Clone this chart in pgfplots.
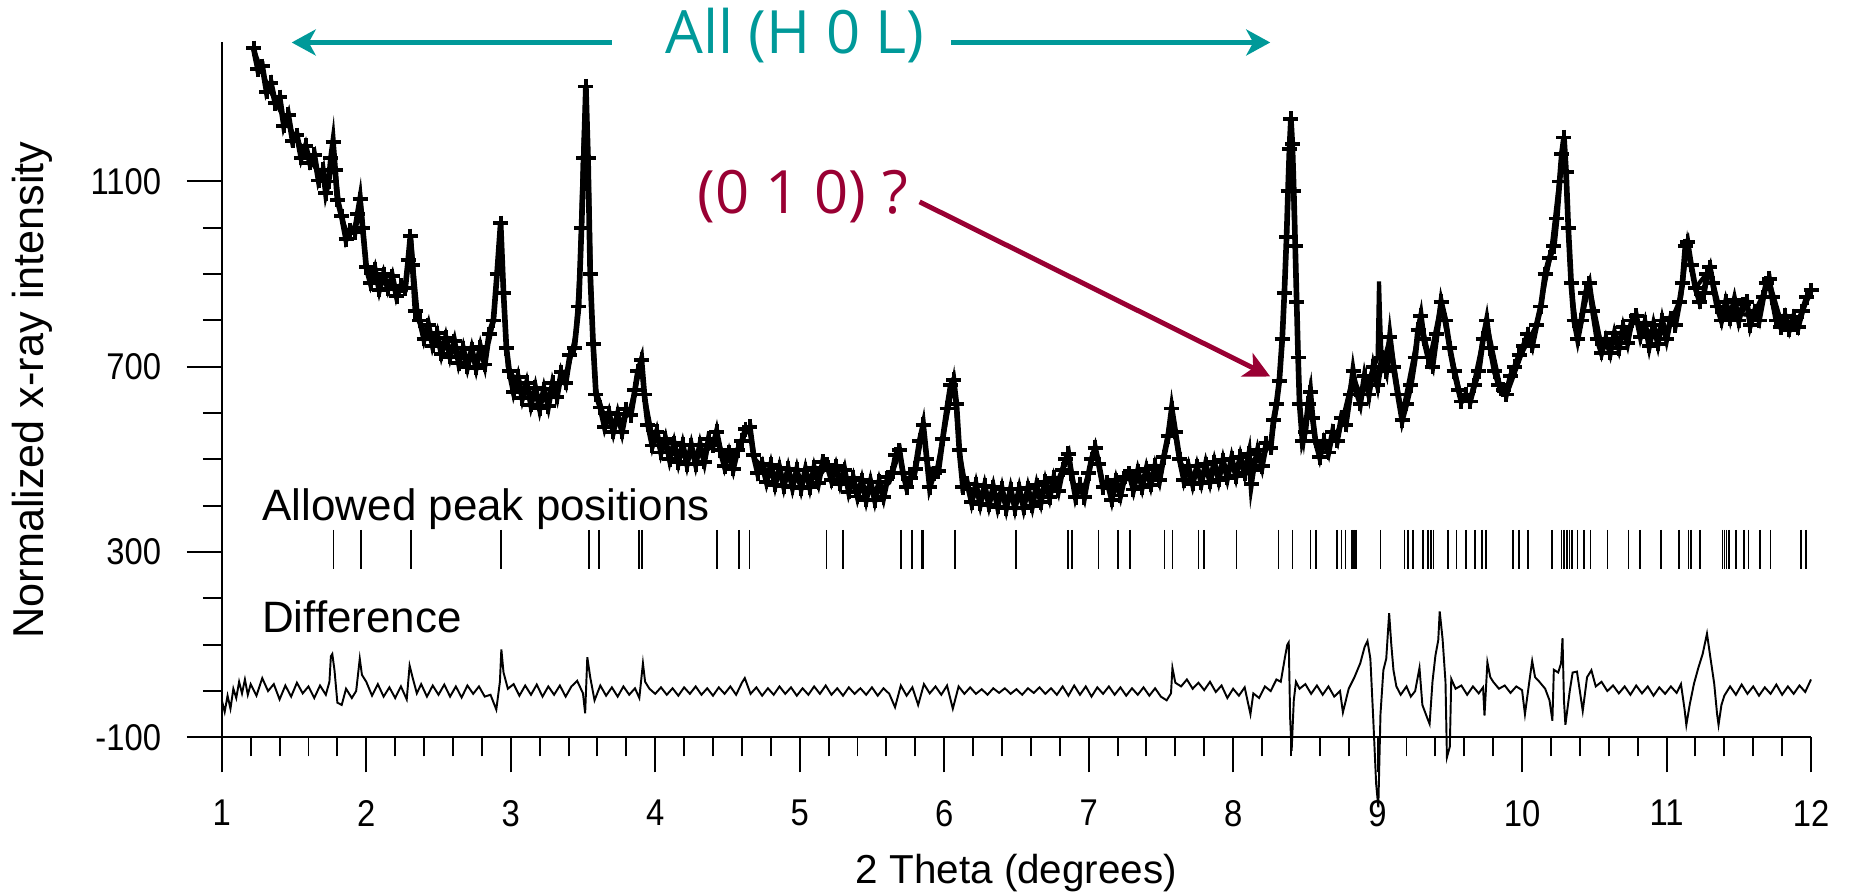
\documentclass[border=0pt]{standalone}
\usepackage{fontspec}
\setmainfont{Liberation Sans}
\newfontfamily\annfont{Open Sans}
\newfontfamily\tickfam[FakeStretch=0.88]{Liberation Sans}
\usepackage{pgfplots}
\pgfplotsset{compat=1.18}
\usetikzlibrary{arrows.meta}
\definecolor{annteal}{RGB}{0,153,153}
\definecolor{annred}{RGB}{153,0,51}
\newcommand{\tickfont}{\tickfam\fontsize{10.6}{12}\selectfont}
\begin{document}
\begin{tikzpicture}
\path[use as bounding box] (-22.18mm,-15.86mm) rectangle (162.82mm,73.74mm);
\begin{axis}[
  at={(0,0)}, anchor=south west,
  scale only axis, width=158.92mm, height=69.49mm,
  xmin=1, xmax=12, ymin=-100, ymax=1400,
  axis lines=left, axis line style={line width=0.55pt,-},
  clip=false,
  xtick={1,2,3,4,5,6,7,8,9,10,11,12},
  xticklabels={1,2,3,4,5,6,7,8,9,10,11,12},
  ytick={-100,300,700,1100},
  yticklabels={-100,300,700,1100},
  minor x tick num=4, minor y tick num=3,
  tick align=outside,
  major tick length=3.5mm, minor tick length=1.9mm,
  tick style={black, line width=0.55pt},
  every tick label/.append style={font=\tickfont},
  yticklabel style={font=\tickfont, anchor=east, inner sep=0pt, xshift=-2.5mm},
  xticklabel style={font=\tickfont, anchor=north, inner sep=0pt, yshift=-2.7mm},
  xlabel={2 Theta (degrees)},
  ylabel={Normalized x-ray intensity},
  xlabel style={font=\fontsize{11.5}{13}\selectfont, at={(axis description cs:0.5,-0.1952)}, anchor=center},
  ylabel style={font=\fontsize{12.3}{14}\selectfont, at={(axis description cs:-0.1190,0.5)}, anchor=center},
]
% difference curve
\addplot[black, line width=0.55pt] coordinates {
(1.00,-20) (1.02,-45) (1.04,-10) (1.06,-38) (1.08,5) (1.10,-15) (1.12,20) (1.14,-5) (1.16,25) (1.18,-8) (1.20,15) (1.24,-10) (1.28,28) (1.32,0) (1.36,15) (1.40,-18) (1.44,12) (1.48,-12) (1.52,18) (1.56,-5) (1.60,10) (1.64,-15) (1.68,12) (1.72,-8) (1.745,20) (1.755,75) (1.765,80) (1.78,45) (1.80,-25) (1.83,-30) (1.86,5) (1.90,-15) (1.93,0) (1.955,70) (1.97,35) (2.00,20) (2.04,-10) (2.08,15) (2.12,-12) (2.16,8) (2.20,-15) (2.24,10) (2.28,-18) (2.30,55) (2.32,30) (2.35,-5) (2.38,15) (2.42,-12) (2.46,12) (2.50,-8) (2.54,14) (2.58,-12) (2.62,10) (2.66,-14) (2.70,12) (2.74,-6) (2.78,10) (2.82,-12) (2.86,-8) (2.90,-40) (2.925,20) (2.935,90) (2.95,40) (2.98,5) (3.02,15) (3.06,-10) (3.10,12) (3.14,-8) (3.18,14) (3.22,-12) (3.26,10) (3.30,-8) (3.34,12) (3.38,-12) (3.42,10) (3.46,22) (3.50,-5) (3.515,-48) (3.53,73) (3.55,30) (3.58,-20) (3.62,12) (3.66,-10) (3.70,8) (3.74,-12) (3.78,10) (3.82,-8) (3.86,6) (3.89,-15) (3.915,60) (3.93,20) (3.96,5) (4.00,-6) (4.04,8) (4.08,-8) (4.12,6) (4.16,-10) (4.20,8) (4.24,-6) (4.28,10) (4.32,-8) (4.36,6) (4.40,-10) (4.44,8) (4.48,-6) (4.52,10) (4.56,-8) (4.60,18) (4.62,28) (4.66,-6) (4.70,8) (4.74,-10) (4.78,6) (4.82,-8) (4.86,10) (4.90,-6) (4.94,8) (4.98,-10) (5.02,6) (5.06,-8) (5.10,10) (5.14,-6) (5.18,12) (5.22,-8) (5.26,6) (5.30,-10) (5.34,8) (5.38,-6) (5.42,6) (5.46,-8) (5.50,8) (5.54,-10) (5.58,6) (5.62,-6) (5.66,-35) (5.70,12) (5.74,-10) (5.78,8) (5.82,-30) (5.86,15) (5.90,-5) (5.94,10) (5.98,-8) (6.02,12) (6.06,-38) (6.10,10) (6.14,-6) (6.18,8) (6.22,-6) (6.26,4) (6.30,-8) (6.34,6) (6.38,-4) (6.42,6) (6.46,-6) (6.50,4) (6.54,-8) (6.58,6) (6.62,-4) (6.66,8) (6.70,-6) (6.74,6) (6.78,-8) (6.82,10) (6.86,-10) (6.90,12) (6.94,-8) (6.98,10) (7.02,-12) (7.06,8) (7.10,-6) (7.14,10) (7.18,-8) (7.22,8) (7.26,-10) (7.30,6) (7.34,-8) (7.38,8) (7.42,-10) (7.46,6) (7.50,-12) (7.54,-20) (7.57,-5) (7.58,50) (7.60,18) (7.64,10) (7.68,25) (7.72,5) (7.76,18) (7.80,2) (7.84,20) (7.88,-2) (7.92,12) (7.96,-15) (8.00,5) (8.04,-10) (8.08,8) (8.12,-50) (8.14,-5) (8.18,-15) (8.22,10) (8.26,0) (8.30,25) (8.33,20) (8.36,75) (8.375,100) (8.385,105) (8.395,-60) (8.405,-129) (8.42,-20) (8.435,20) (8.46,5) (8.50,15) (8.54,-6) (8.58,12) (8.62,-8) (8.66,10) (8.70,-12) (8.74,0) (8.76,-46) (8.80,5) (8.84,30) (8.88,60) (8.91,95) (8.93,108) (8.95,70) (8.97,-60) (8.99,-200) (9.005,-251) (9.02,-50) (9.04,45) (9.06,70) (9.08,168) (9.095,100) (9.11,45) (9.13,10) (9.16,-8) (9.20,10) (9.23,-12) (9.26,0) (9.29,50) (9.31,-30) (9.34,-55) (9.36,-71) (9.38,20) (9.40,76) (9.42,110) (9.43,172) (9.45,112) (9.47,20) (9.48,-143) (9.50,-120) (9.51,26) (9.54,5) (9.58,12) (9.62,-8) (9.66,10) (9.70,-5) (9.73,8) (9.74,-53) (9.76,62) (9.78,30) (9.80,20) (9.84,5) (9.88,12) (9.92,-4) (9.96,10) (10.00,2) (10.02,-50) (10.05,20) (10.07,65) (10.09,30) (10.12,20) (10.16,5) (10.19,-20) (10.21,-64) (10.22,46) (10.25,40) (10.27,60) (10.28,114) (10.29,-20) (10.30,-73) (10.33,0) (10.35,40) (10.38,42) (10.40,0) (10.42,-43) (10.45,30) (10.48,45) (10.51,10) (10.55,20) (10.59,0) (10.63,12) (10.67,-5) (10.71,10) (10.75,-8) (10.79,12) (10.83,-5) (10.87,10) (10.91,-10) (10.95,8) (10.99,-6) (11.03,10) (11.07,-4) (11.10,15) (11.125,-40) (11.137,-73) (11.16,-30) (11.19,16) (11.22,50) (11.25,80) (11.28,124) (11.30,80) (11.33,16) (11.35,-50) (11.36,-73) (11.38,-30) (11.40,-10) (11.44,10) (11.48,-8) (11.52,14) (11.56,-6) (11.60,10) (11.64,-10) (11.68,8) (11.72,-6) (11.76,14) (11.80,-8) (11.84,10) (11.88,-6) (11.92,12) (11.96,-2) (12.00,25)
};
% allowed peak positions
\addplot[only marks, mark=|, mark size=1.946mm, mark options={line width=0.45pt, black}] coordinates {
(1.774,306) (1.965,306) (2.311,306) (2.932,306) (3.540,306) (3.610,306) (3.886,306) (3.907,306) (4.426,306) (4.581,306) (4.652,306) (5.185,306) (5.298,306) (5.700,306) (5.778,306) (5.843,306) (5.855,306) (6.075,306) (6.499,306) (6.858,306) (6.884,306) (7.067,306) (7.203,306) (7.287,306) (7.525,306) (7.580,306) (7.760,306) (7.800,306) (8.023,306) (8.313,306) (8.412,306) (8.536,306) (8.573,306) (8.720,306) (8.749,306) (8.778,306) (8.822,306) (8.837,306) (8.852,306) (9.020,306) (9.185,306) (9.211,306) (9.247,306) (9.313,306) (9.350,306) (9.368,306) (9.386,306) (9.489,306) (9.547,306) (9.610,306) (9.676,306) (9.723,306) (9.749,306) (9.936,306) (9.980,306) (10.042,306) (10.207,306) (10.273,306) (10.291,306) (10.310,306) (10.328,306) (10.346,306) (10.383,306) (10.427,306) (10.474,306) (10.592,306) (10.738,306) (10.815,306) (10.962,306) (11.086,306) (11.152,306) (11.170,306) (11.233,306) (11.386,306) (11.401,306) (11.416,306) (11.431,306) (11.482,306) (11.537,306) (11.566,306) (11.647,306) (11.720,306) (11.929,306) (11.965,306)
};
% observed
\addplot[black, line width=1.6pt, mark=+, mark size=0.75mm, mark options={line width=1.1pt, black}] coordinates {
(1.22,1388) (1.25,1342) (1.28,1349) (1.31,1294) (1.34,1313) (1.37,1269) (1.40,1282) (1.43,1220) (1.46,1244) (1.49,1188) (1.52,1200) (1.55,1151) (1.58,1177) (1.61,1140) (1.64,1158) (1.67,1102) (1.70,1125) (1.72,1075) (1.74,1100) (1.755,1150) (1.77,1185) (1.785,1125) (1.80,1060) (1.83,1025) (1.86,975) (1.89,995) (1.92,990) (1.94,1030) (1.957,1062) (1.975,1000) (2.00,915) (2.03,880) (2.06,910) (2.09,866) (2.12,900) (2.15,868) (2.18,895) (2.21,852) (2.24,875) (2.27,870) (2.29,930) (2.305,982) (2.32,920) (2.34,820) (2.37,800) (2.40,760) (2.43,790) (2.46,745) (2.49,772) (2.52,728) (2.55,763) (2.58,722) (2.61,755) (2.64,708) (2.67,740) (2.70,700) (2.73,738) (2.76,698) (2.79,742) (2.82,705) (2.85,770) (2.88,800) (2.905,900) (2.93,1010) (2.95,860) (2.97,740) (2.99,690) (3.02,645) (3.05,678) (3.08,632) (3.11,665) (3.14,618) (3.17,655) (3.20,610) (3.23,652) (3.26,615) (3.29,665) (3.32,635) (3.35,688) (3.38,665) (3.41,725) (3.44,740) (3.47,830) (3.49,1000) (3.505,1150) (3.52,1305) (3.535,1150) (3.55,900) (3.57,750) (3.59,640) (3.62,612) (3.65,570) (3.68,600) (3.71,560) (3.74,598) (3.77,560) (3.80,608) (3.83,595) (3.86,650) (3.88,690) (3.905,715) (3.925,640) (3.95,575) (3.98,530) (4.01,560) (4.04,515) (4.07,545) (4.10,500) (4.13,535) (4.16,494) (4.19,532) (4.22,490) (4.25,530) (4.28,490) (4.31,532) (4.34,495) (4.37,545) (4.40,530) (4.425,560) (4.45,520) (4.48,485) (4.51,515) (4.54,480) (4.57,520) (4.60,540) (4.625,565) (4.655,570) (4.68,510) (4.71,470) (4.74,490) (4.77,452) (4.80,488) (4.83,445) (4.86,482) (4.89,442) (4.92,480) (4.95,440) (4.98,478) (5.01,438) (5.04,478) (5.07,440) (5.10,482) (5.13,450) (5.16,495) (5.19,488) (5.22,455) (5.25,485) (5.28,447) (5.31,478) (5.34,430) (5.37,460) (5.40,420) (5.43,455) (5.46,413) (5.49,452) (5.52,412) (5.55,452) (5.58,418) (5.61,462) (5.64,470) (5.665,510) (5.69,520) (5.715,470) (5.74,440) (5.77,460) (5.80,480) (5.83,540) (5.855,575) (5.88,500) (5.90,440) (5.93,470) (5.96,475) (5.99,545) (6.02,610) (6.045,660) (6.065,672) (6.085,620) (6.105,520) (6.13,440) (6.16,448) (6.19,408) (6.22,446) (6.25,404) (6.28,443) (6.31,402) (6.34,440) (6.37,398) (6.40,437) (6.43,395) (6.46,436) (6.49,395) (6.52,436) (6.55,396) (6.58,438) (6.61,400) (6.64,444) (6.67,408) (6.70,452) (6.73,418) (6.76,460) (6.79,432) (6.82,478) (6.84,500) (6.86,512) (6.88,470) (6.91,418) (6.94,445) (6.97,418) (7.00,470) (7.02,500) (7.045,525) (7.07,490) (7.10,440) (7.13,450) (7.16,413) (7.19,455) (7.22,422) (7.25,463) (7.28,470) (7.31,435) (7.34,475) (7.37,440) (7.40,480) (7.43,445) (7.46,486) (7.49,455) (7.52,505) (7.55,550) (7.575,610) (7.60,560) (7.63,500) (7.66,455) (7.69,485) (7.72,447) (7.75,485) (7.78,450) (7.81,490) (7.84,452) (7.87,494) (7.90,456) (7.93,498) (7.96,460) (7.99,502) (8.02,464) (8.05,506) (8.08,470) (8.11,512) (8.125,447) (8.14,478) (8.17,520) (8.20,485) (8.23,535) (8.26,525) (8.28,585) (8.30,620) (8.32,670) (8.34,760) (8.355,860) (8.37,980) (8.38,1080) (8.39,1170) (8.40,1235) (8.41,1180) (8.42,1080) (8.43,960) (8.44,840) (8.45,720) (8.46,620) (8.48,540) (8.50,560) (8.52,620) (8.535,645) (8.55,590) (8.57,540) (8.60,505) (8.63,540) (8.66,515) (8.69,560) (8.72,540) (8.75,590) (8.78,575) (8.81,640) (8.83,690) (8.85,650) (8.88,620) (8.91,680) (8.94,640) (8.97,700) (9.00,660) (9.03,720) (9.06,690) (9.085,765) (9.11,700) (9.14,640) (9.17,585) (9.20,620) (9.23,660) (9.26,720) (9.28,780) (9.30,810) (9.32,760) (9.35,720) (9.38,700) (9.41,770) (9.44,840) (9.47,800) (9.50,740) (9.53,690) (9.56,650) (9.58,625) (9.61,640) (9.64,625) (9.67,660) (9.70,690) (9.73,760) (9.755,800) (9.78,740) (9.81,690) (9.84,660) (9.87,650) (9.89,640) (9.92,680) (9.95,700) (9.98,725) (10.01,745) (10.04,770) (10.07,745) (10.10,790) (10.13,830) (10.16,900) (10.19,935) (10.22,960) (10.24,1020) (10.26,1100) (10.275,1160) (10.29,1195) (10.305,1120) (10.32,1000) (10.34,880) (10.36,800) (10.385,760) (10.41,800) (10.44,860) (10.465,880) (10.49,820) (10.52,760) (10.55,730) (10.58,760) (10.61,730) (10.64,772) (10.67,740) (10.70,785) (10.73,752) (10.76,800) (10.79,810) (10.82,765) (10.85,795) (10.88,745) (10.91,790) (10.94,750) (10.97,800) (11.00,760) (11.03,805) (11.06,790) (11.09,840) (11.11,880) (11.13,960) (11.145,970) (11.17,920) (11.20,870) (11.23,840) (11.26,860) (11.28,900) (11.30,915) (11.32,880) (11.35,830) (11.38,800) (11.41,840) (11.44,805) (11.47,845) (11.50,800) (11.53,835) (11.555,840) (11.58,790) (11.61,820) (11.64,800) (11.67,850) (11.69,880) (11.71,890) (11.73,850) (11.76,800) (11.79,785) (11.82,810) (11.85,780) (11.88,808) (11.91,785) (11.94,820) (11.97,850) (12.00,865)
};
% calculated
\addplot[black, line width=1.2pt] coordinates {
(1.22,1385) (1.3,1320) (1.4,1255) (1.5,1200) (1.6,1150) (1.7,1108) (1.73,1090) (1.75,1120) (1.77,1180) (1.79,1110) (1.82,1030) (1.86,995) (1.9,990) (1.94,1020) (1.96,1060) (1.98,990) (2.0,915) (2.1,890) (2.2,875) (2.27,868) (2.29,920) (2.31,975) (2.33,900) (2.36,800) (2.4,778) (2.5,752) (2.6,735) (2.7,720) (2.8,722) (2.85,755) (2.88,800) (2.91,920) (2.93,1000) (2.95,850) (2.98,700) (3.05,660) (3.2,630) (3.3,645) (3.4,700) (3.45,770) (3.48,920) (3.5,1150) (3.52,1300) (3.54,1100) (3.56,820) (3.59,650) (3.65,590) (3.75,578) (3.82,600) (3.86,650) (3.9,710) (3.93,630) (3.98,550) (4.1,520) (4.3,510) (4.38,525) (4.425,555) (4.46,515) (4.5,500) (4.58,520) (4.62,555) (4.655,565) (4.69,500) (4.8,468) (5.0,458) (5.15,470) (5.19,488) (5.25,468) (5.4,440) (5.55,432) (5.62,450) (5.69,515) (5.73,455) (5.8,470) (5.855,570) (5.89,480) (5.95,480) (6.0,560) (6.065,670) (6.11,510) (6.15,440) (6.3,422) (6.5,415) (6.65,426) (6.78,450) (6.86,510) (6.9,440) (6.96,430) (7.045,520) (7.1,445) (7.2,438) (7.285,465) (7.4,460) (7.5,472) (7.575,600) (7.63,495) (7.7,466) (8.0,483) (8.2,505) (8.26,535) (8.3,610) (8.34,750) (8.37,970) (8.4,1230) (8.43,950) (8.46,620) (8.49,545) (8.53,640) (8.57,535) (8.65,525) (8.75,575) (8.83,680) (8.88,640) (8.95,680) (9.0,720) (9.005,800) (9.01,884) (9.018,800) (9.03,700) (9.085,760) (9.17,595) (9.3,800) (9.36,715) (9.44,835) (9.5,740) (9.58,630) (9.65,640) (9.755,795) (9.85,655) (9.9,645) (10.0,730) (10.1,790) (10.2,945) (10.29,1190) (10.34,870) (10.385,765) (10.465,875) (10.55,745) (10.65,755) (10.79,800) (10.9,770) (11.0,775) (11.1,850) (11.145,965) (11.2,870) (11.3,910) (11.38,810) (11.5,815) (11.6,810) (11.71,885) (11.8,790) (11.9,795) (12.0,860)
};
% annotations
\node[annteal, anchor=base, inner sep=0pt, font=\annfont\fontsize{17}{20}\selectfont] at (axis cs:4.967,1377) {All (H 0 L)};
\draw[annteal, line width=1.2pt, -{Stealth[length=2.4mm,width=2.6mm,inset=0.7mm]}] (axis cs:3.70,1400) -- (axis cs:1.484,1400);
\draw[annteal, line width=1.2pt, -{Stealth[length=2.4mm,width=2.6mm,inset=0.7mm]}] (axis cs:6.05,1400) -- (axis cs:8.257,1400);
\node[annred, anchor=base, inner sep=0pt, font=\annfont\fontsize{17}{20}\selectfont] at (axis cs:5.021,1031) {(0 1 0) ?};
\draw[annred, line width=1.4pt, -{Stealth[length=2.6mm,width=2.6mm,inset=0.7mm]}] (axis cs:5.83,1056) -- (axis cs:8.257,679);
\node[anchor=base west, inner sep=0pt, font=\fontsize{12.5}{14}\selectfont] at (axis cs:1.278,368) {Allowed peak positions};
\node[anchor=base west, inner sep=0pt, font=\fontsize{12.5}{14}\selectfont] at (axis cs:1.275,127) {Difference};
\end{axis}
\end{tikzpicture}
\end{document}
